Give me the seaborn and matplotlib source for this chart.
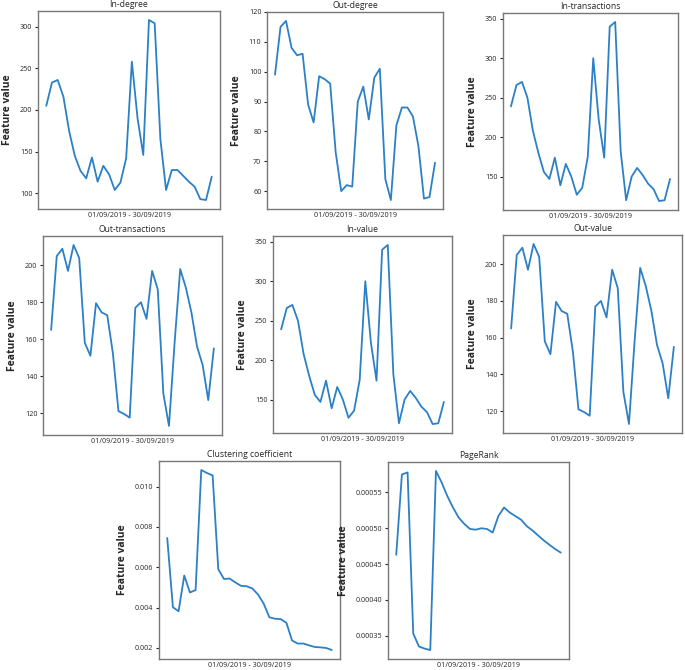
import seaborn as sns
from matplotlib import pyplot as plt

days = list(range(1, 31))

in_degree = [205, 233, 236, 216, 175, 145, 127, 118, 143, 114, 133, 123, 104, 113, 142,
             258, 190, 146, 308, 304, 165, 104, 128, 128, 121, 114, 108, 93, 92, 120]
out_degree = [99, 115, 117, 108, 105.5, 106, 89, 83, 98.5, 97.5, 96, 73, 60, 62, 61.5,
              90, 95, 84, 98, 101, 64, 57, 82, 88, 88, 85, 75, 57.5, 58, 69.5]
in_transactions = [239, 266, 270, 250, 208, 180, 156, 147, 174, 139, 166, 150, 127, 136, 175,
                   300, 222, 174, 340, 346, 182, 120, 150, 161, 152, 141, 134, 119, 120, 147]
out_transactions = [165, 205, 209, 197, 211, 204, 158, 151, 179.5, 174.5, 173, 152.5, 121, 119.5, 117.5,
                    177, 180, 171, 197, 187, 130.5, 113, 158, 198, 188, 174.5, 156, 146, 127, 155]
in_value = [239, 266, 270, 250, 208, 180, 156, 147, 174, 139, 166, 150, 127, 136, 175,
            300, 222, 174, 340, 346, 182, 120, 150, 161, 152, 141, 134, 119, 120, 147]
out_value = [165, 205, 209, 197, 211, 204, 158, 151, 179.5, 174.5, 173, 152.5, 121, 119.5, 117.5,
             177, 180, 171, 197, 187, 130.5, 113, 158, 198, 188, 174.5, 156, 146, 127, 155]
clustering = [0.00745, 0.00402, 0.00382, 0.00559, 0.00475, 0.00487, 0.01082, 0.01067, 0.01055, 0.00590,
              0.00542, 0.00544, 0.00525, 0.00508, 0.00506, 0.00495, 0.00465, 0.00420, 0.00352, 0.00345,
              0.00343, 0.00325, 0.00237, 0.00222, 0.00222, 0.00213, 0.00205, 0.00203, 0.00200, 0.00190]
pagerank = [0.000463, 0.000575, 0.000578, 0.000353, 0.000335, 0.000332, 0.000330, 0.000580, 0.000564, 0.000545,
            0.000529, 0.000515, 0.000506, 0.000499, 0.000498, 0.000500, 0.000499, 0.000494, 0.000517, 0.000529,
            0.000522, 0.000517, 0.000512, 0.000503, 0.000497, 0.000490, 0.000483, 0.000477, 0.000471, 0.000466]

titles = ["In-degree", "Out-degree", "In-transactions", "Out-transactions",
          "In-value", "Out-value", "Clustering coefficient", "PageRank"]
series = [in_degree, out_degree, in_transactions, out_transactions,
          in_value, out_value, clustering, pagerank]

# axes boxes in pixels: left, top, right, bottom
boxes = [(38, 11, 220, 209), (267, 12, 443, 209), (503, 13, 678, 210),
         (43, 236, 222, 435), (273, 236, 452, 433), (503, 235, 682, 433),
         (159, 461, 340, 659), (388, 462, 569, 659)]

sns.set_style("white")
plt.rcParams['font.family'] = ['Open Sans', 'DejaVu Sans']

W, H = 685, 670
fig = plt.figure(figsize=(W / 100, H / 100), dpi=100)

for title, vals, (l, t, r, b) in zip(titles, series, boxes):
    ax = fig.add_axes([l / W, 1 - b / H, (r - l) / W, (b - t) / H])
    sns.lineplot(x=days, y=vals, ax=ax, color="#2b80c6", linewidth=1.3)
    ax.set_title(title, fontsize=6.2, pad=3)
    ax.set_xlabel("01/09/2019 - 30/09/2019", fontsize=5.2, labelpad=2)
    ax.set_ylabel("Feature value", fontsize=7.5, fontweight="bold", labelpad=5)
    ax.set_xticks([])
    ax.tick_params(axis="y", labelsize=5.2, length=2, left=True, pad=2)
    for s in ax.spines.values():
        s.set_color("#777777")
        s.set_linewidth(1)

plt.savefig("out.png", dpi=100)
